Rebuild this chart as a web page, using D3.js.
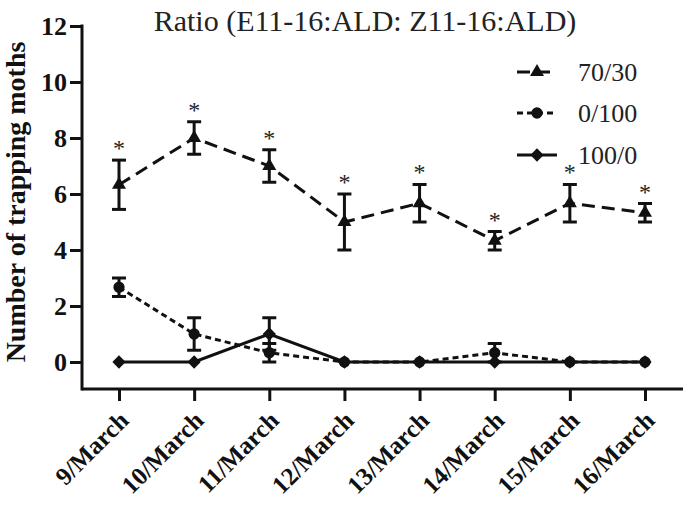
<!DOCTYPE html>
<html>
<head>
<meta charset="utf-8">
<script src="https://cdn.jsdelivr.net/npm/d3@7"></script>
<style>
  html, body { margin: 0; padding: 0; background: #fff; }
  svg text { font-family: "Liberation Serif", "Times New Roman", serif; }
</style>
</head>
<body>
<svg id="chart" width="685" height="508"></svg>
<script>
// ---- data ----
const categories = ["9/March", "10/March", "11/March", "12/March", "13/March", "14/March", "15/March", "16/March"];
const mean7030 = [6.33, 8.0, 7.0, 5.0, 5.67, 4.33, 5.67, 5.33];
const sem7030  = [0.88, 0.58, 0.58, 1.0, 0.67, 0.33, 0.67, 0.33];
const mean0100 = [2.67, 1.0, 0.33, 0, 0, 0.33, 0, 0];
const sem0100  = [0.33, 0.58, 0.33, 0, 0, 0.33, 0, 0];
const mean1000 = [0, 0, 1.0, 0, 0, 0, 0, 0];
const sem1000  = [0, 0, 0.58, 0, 0, 0, 0, 0];
const significant7030 = [true, true, true, true, true, true, true, true];
const yTicks = [0, 2, 4, 6, 8, 10, 12];
const seriesNames = ["70/30", "0/100", "100/0"];
const titleText = "Ratio (E11-16:ALD: Z11-16:ALD)";
const yTitle = "Number of trapping moths";

// ---- layout ----
const FONT = '"Liberation Serif", "Times New Roman", serif';
const svg = d3.select("#chart");
const axisX = 82, axisY = 389, rightEnd = 683;
const y = d3.scaleLinear().domain([0, 12]).range([362, 26]);
const x = d3.scalePoint().domain(categories).range([119, 645]);

const series = [
  { name: seriesNames[0], mean: mean7030, sem: sem7030, dash: "13,7", symbol: d3.symbolTriangle, size: 85, rot: 0 },
  { name: seriesNames[1], mean: mean0100, sem: sem0100, dash: "6,4", symbol: d3.symbolCircle, size: 100, rot: 0 },
  { name: seriesNames[2], mean: mean1000, sem: sem1000, dash: null, symbol: d3.symbolSquare, size: 88, rot: 45 }
];

// title
svg.append("text").attr("x", 365).attr("y", 31).attr("text-anchor", "middle")
  .attr("font-family", FONT).attr("font-size", 30).attr("fill", "#222").text(titleText);

// y axis
const yAxis = svg.append("g").attr("transform", `translate(${axisX},0)`)
  .call(d3.axisLeft(y).tickValues(yTicks).tickSize(12).tickSizeOuter(0).tickPadding(3))
  .attr("font-family", FONT);
yAxis.select(".domain").remove();
yAxis.selectAll(".tick line").attr("stroke", "#111").attr("stroke-width", 3);
yAxis.selectAll(".tick text").attr("font-size", 26).attr("font-weight", "bold")
  .attr("fill", "#111").attr("font-family", FONT);
svg.append("line").attr("x1", axisX).attr("x2", axisX).attr("y1", y(12) - 1.5).attr("y2", axisY + 1.5)
  .attr("stroke", "#111").attr("stroke-width", 3);

// x axis
const xAxis = svg.append("g").attr("transform", `translate(0,${axisY})`)
  .call(d3.axisBottom(x).tickSize(12).tickSizeOuter(0));
xAxis.select(".domain").remove();
xAxis.selectAll(".tick line").attr("stroke", "#111").attr("stroke-width", 3);
xAxis.selectAll(".tick text").remove();
svg.append("line").attr("x1", axisX).attr("x2", rightEnd).attr("y1", axisY).attr("y2", axisY)
  .attr("stroke", "#111").attr("stroke-width", 3);
svg.append("g").selectAll("text").data(categories).join("text")
  .attr("transform", d => `translate(${x(d) + 11},${axisY + 33}) rotate(-45)`)
  .attr("text-anchor", "end").attr("font-family", FONT).attr("font-size", 25).attr("font-weight", "bold")
  .attr("fill", "#111").text(d => d);

// y title
svg.append("text").attr("transform", `translate(25,202) rotate(-90)`)
  .attr("text-anchor", "middle").attr("font-family", FONT).attr("font-size", 28).attr("font-weight", "bold")
  .attr("fill", "#111").text(yTitle);

// series
const plot = svg.append("g");
const drawOrder = [1, 2, 0];
drawOrder.forEach(si => {
  const s = series[si];
  const pts = categories.map((c, i) => ({ c, v: s.mean[i], e: s.sem[i] }));
  const g = plot.append("g");
  g.append("path").datum(pts)
    .attr("d", d3.line().x(d => x(d.c)).y(d => y(d.v)))
    .attr("fill", "none").attr("stroke", "#111").attr("stroke-width", 3)
    .attr("stroke-dasharray", s.dash);
  const eb = g.selectAll(".eb").data(pts.filter(d => d.e > 0)).join("g");
  eb.append("line").attr("x1", d => x(d.c)).attr("x2", d => x(d.c))
    .attr("y1", d => y(d.v + d.e)).attr("y2", d => y(d.v - d.e))
    .attr("stroke", "#111").attr("stroke-width", 3);
  [1, -1].forEach(sg => {
    eb.append("line").attr("x1", d => x(d.c) - 7).attr("x2", d => x(d.c) + 7)
      .attr("y1", d => y(d.v + sg * d.e)).attr("y2", d => y(d.v + sg * d.e))
      .attr("stroke", "#111").attr("stroke-width", 3);
  });
  g.selectAll(".mk").data(pts).join("path")
    .attr("d", d3.symbol().type(s.symbol).size(s.size))
    .attr("transform", d => `translate(${x(d.c)},${y(d.v)}) rotate(${s.rot})`)
    .attr("fill", "#111");
});

// significance asterisks for 70/30
svg.append("g").selectAll("text")
  .data(categories.map((c, i) => ({ c, v: mean7030[i] + sem7030[i], s: significant7030[i] })).filter(d => d.s))
  .join("text")
  .attr("x", d => x(d.c)).attr("y", d => y(d.v) - 4)
  .attr("text-anchor", "middle").attr("font-family", FONT).attr("font-size", 24).attr("fill", "#222").text("*");

// legend
const legend = svg.append("g");
const legY = [72, 113, 155];
series.forEach((s, i) => {
  const lg = legend.append("g").attr("transform", `translate(0,${legY[i]})`);
  lg.append("line").attr("x1", 517).attr("x2", 557).attr("y1", 0).attr("y2", 0)
    .attr("stroke", "#111").attr("stroke-width", 3).attr("stroke-dasharray", s.dash);
  lg.append("path").attr("d", d3.symbol().type(s.symbol).size(s.size))
    .attr("transform", `translate(537,0) rotate(${s.rot})`).attr("fill", "#111");
  lg.append("text").attr("x", 578).attr("y", 0).attr("dy", "0.35em")
    .attr("font-family", FONT).attr("font-size", 26).attr("fill", "#222").text(s.name);
});
</script>
</body>
</html>
